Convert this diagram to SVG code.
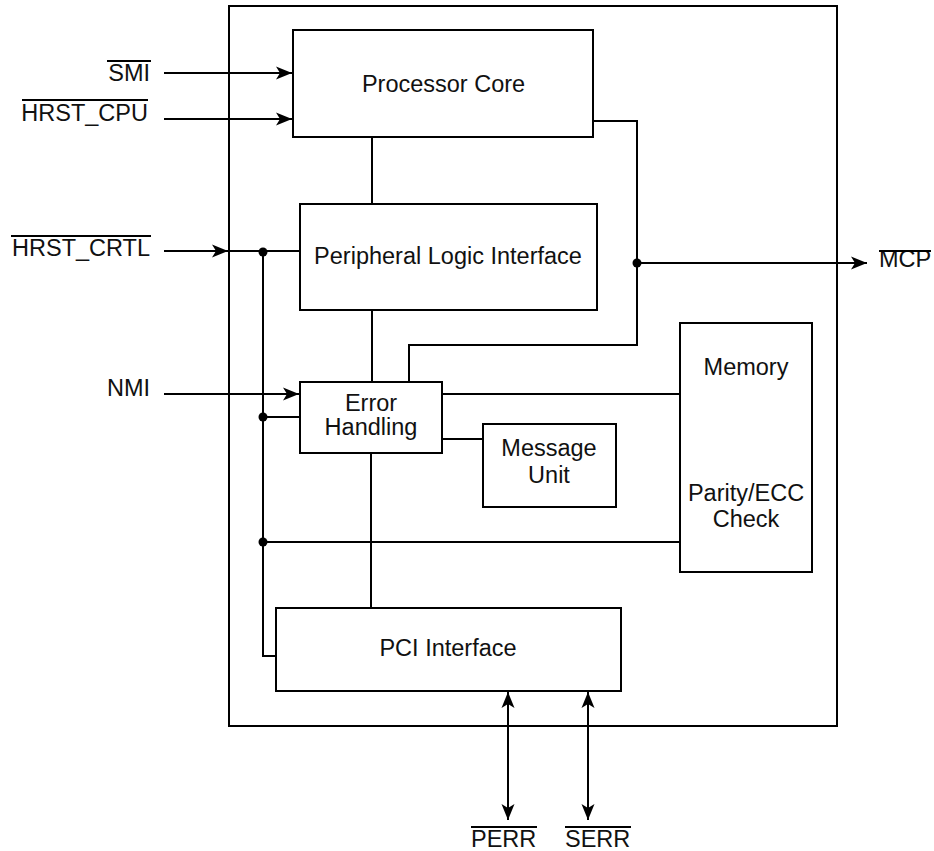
<svg xmlns="http://www.w3.org/2000/svg" width="934" height="851" viewBox="0 0 934 851">
<style>
.box{fill:#fff;stroke:#000;stroke-width:2}
.ln{fill:none;stroke:#000;stroke-width:2}
.ar{marker-end:url(#ah)}
.dar{marker-start:url(#ahs);marker-end:url(#ah)}
text{font-family:"Liberation Sans",Arial,sans-serif;font-size:23.5px;fill:#111}
.c{text-anchor:middle}
.r{text-anchor:end}
.ov{stroke:#000;stroke-width:2}
</style>
<defs>
<marker id="ah" viewBox="-18 -8 19 16" refX="0" refY="0" markerWidth="19" markerHeight="16" markerUnits="userSpaceOnUse" orient="auto">
<path d="M0,0 L-16,-6.5 L-12,0 L-16,6.5 Z" fill="#000"/>
</marker>
<marker id="ahs" viewBox="-18 -8 19 16" refX="0" refY="0" markerWidth="19" markerHeight="16" markerUnits="userSpaceOnUse" orient="auto-start-reverse">
<path d="M0,0 L-16,-6.5 L-12,0 L-16,6.5 Z" fill="#000"/>
</marker>
</defs>
<rect id="outer" x="229" y="6" width="608" height="720" class="box"/>
<g id="connectors">
<line x1="164" y1="73" x2="292" y2="73" class="ln ar"/>
<line x1="164" y1="119" x2="292" y2="119" class="ln ar"/>
<line x1="164" y1="251" x2="228" y2="251" class="ln ar"/>
<line x1="228" y1="251" x2="300" y2="251" class="ln"/>
<line x1="164" y1="394" x2="299" y2="394" class="ln ar"/>
<polyline points="263,251 263,656 276,656" class="ln"/>
<line x1="263" y1="417" x2="300" y2="417" class="ln"/>
<line x1="263" y1="542" x2="680" y2="542" class="ln"/>
<line x1="372" y1="137" x2="372" y2="204" class="ln"/>
<line x1="372" y1="310" x2="372" y2="382" class="ln"/>
<line x1="371" y1="453" x2="371" y2="608" class="ln"/>
<polyline points="593,121 637,121 637,345 409,345 409,382" class="ln"/>
<line x1="637" y1="263" x2="867" y2="263" class="ln ar"/>
<line x1="442" y1="394" x2="680" y2="394" class="ln"/>
<line x1="442" y1="439" x2="483" y2="439" class="ln"/>
<line x1="508" y1="692" x2="508" y2="820" class="ln dar"/>
<line x1="588" y1="692" x2="588" y2="820" class="ln dar"/>
<circle cx="263" cy="252" r="4.5" fill="#000"/>
<circle cx="263" cy="417" r="4.5" fill="#000"/>
<circle cx="263" cy="542" r="4.5" fill="#000"/>
<circle cx="637" cy="263" r="4.5" fill="#000"/>
</g>
<g id="processor-core">
<rect x="293" y="30" width="300" height="107" class="box"/>
<text x="443.5" y="92" class="c">Processor Core</text>
</g>
<g id="peripheral-logic">
<rect x="300" y="204" width="297" height="106" class="box"/>
<text x="448" y="264" class="c">Peripheral Logic Interface</text>
</g>
<g id="error-handling">
<rect x="300" y="382" width="142" height="71" class="box"/>
<text x="371" y="411" class="c">Error</text>
<text x="371" y="435" class="c">Handling</text>
</g>
<g id="message-unit">
<rect x="483" y="424" width="133" height="83" class="box"/>
<text x="549" y="456" class="c">Message</text>
<text x="549" y="483" class="c">Unit</text>
</g>
<g id="memory">
<rect x="680" y="323" width="132" height="249" class="box"/>
<text x="746" y="375" class="c">Memory</text>
<text x="746" y="501" class="c">Parity/ECC</text>
<text x="746" y="527" class="c">Check</text>
</g>
<g id="pci-interface">
<rect x="276" y="608" width="345" height="83" class="box"/>
<text x="448" y="656" class="c">PCI Interface</text>
</g>
<g id="signals">
<text x="150" y="81" class="r">SMI</text>
<line x1="107" y1="61" x2="151" y2="61" class="ov"/>
<text x="148" y="121" class="r">HRST_CPU</text>
<line x1="22" y1="100" x2="148" y2="100" class="ov"/>
<text x="150" y="256" class="r">HRST_CRTL</text>
<line x1="11" y1="236" x2="151" y2="236" class="ov"/>
<text x="150" y="396" class="r">NMI</text>
<text x="879" y="267">MCP</text>
<line x1="879" y1="251" x2="931" y2="251" class="ov"/>
<text x="471" y="847">PERR</text>
<line x1="471" y1="827" x2="537" y2="827" class="ov"/>
<text x="565" y="847">SERR</text>
<line x1="565" y1="827" x2="631" y2="827" class="ov"/>
</g>
</svg>
